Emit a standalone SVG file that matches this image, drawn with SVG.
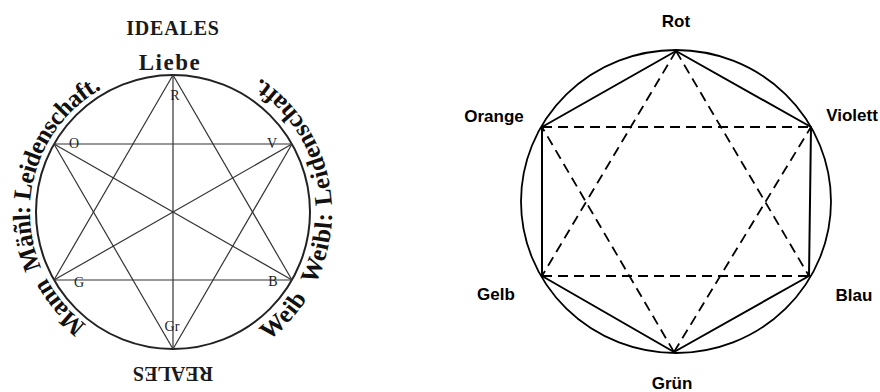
<svg xmlns="http://www.w3.org/2000/svg" width="880" height="392" viewBox="0 0 880 392">
<style>
.ser{font-family:"Liberation Serif","Times New Roman",serif;fill:#1a1a1a}
.b{font-weight:bold}
.al{font-family:"Liberation Serif","Times New Roman",serif;font-weight:bold;font-size:25px;fill:#111;letter-spacing:-0.5px}
.ar{font-family:"Liberation Serif","Times New Roman",serif;font-weight:bold;font-size:25px;fill:#111;letter-spacing:0.6px}
.lbl{font-family:"Liberation Serif",serif;font-size:14px;fill:#222;text-anchor:middle}
.thin{stroke:#333;stroke-width:1.2;fill:none}
.sol{stroke:#000;stroke-width:2;fill:none;stroke-linejoin:round}
.dash{stroke:#000;stroke-width:1.8;fill:none;stroke-dasharray:10 6}
.sans{font-family:"Liberation Sans",Arial,sans-serif;font-weight:bold;font-size:17px;fill:#000;text-anchor:middle}
</style>
<defs>
<path id="pl" d="M86.6,324.7 A141,141 0 0 1 124.4,78.6"/>
<path id="pr" d="M268.4,340.5 A161,161 0 0 0 227.7,61.6"/>
</defs>
<rect width="880" height="392" fill="#fff"/>

<!-- LEFT DIAGRAM -->
<g id="left-frame">
<circle cx="173" cy="212" r="137" fill="none" stroke="#222" stroke-width="2"/>
<text class="ser b" x="173" y="35" font-size="20" text-anchor="middle" letter-spacing="0.8">IDEALES</text>
<text class="ser b" x="170" y="70" font-size="23" text-anchor="middle" letter-spacing="1.5">Liebe</text>
<text class="ser b" x="173" y="380" font-size="20" text-anchor="middle" transform="rotate(180 173 373.5)">REALES</text>
</g>
<g id="left-arc-text">
<text class="al"><textPath href="#pl" startOffset="0">Mann</textPath></text>
<text class="al"><textPath href="#pl" startOffset="73.4">Mäñl:</textPath></text>
<text class="al"><textPath href="#pl" startOffset="141.95">Leiden</textPath></text>
<text class="al"><textPath href="#pl" startOffset="212.6">schaft.</textPath></text>
</g>
<g id="right-arc-text">
<text class="ar"><textPath href="#pr" startOffset="0">Weib</textPath></text>
<text class="ar"><textPath href="#pr" startOffset="73.05">Weibl:</textPath></text>
<text class="ar"><textPath href="#pr" startOffset="155.725">Leiden</textPath></text>
<text class="ar"><textPath href="#pr" startOffset="232.95">sch</textPath></text>
<text class="ar"><textPath href="#pr" startOffset="269.475">aft.</textPath></text>
</g>
<g id="left-connectors">
<line class="thin" x1="173" y1="75" x2="173" y2="349"/>
<line class="thin" x1="54" y1="144" x2="292" y2="144"/>
<line class="thin" x1="54" y1="280" x2="292" y2="280"/>
<line class="thin" x1="173" y1="75" x2="54" y2="280"/>
<line class="thin" x1="173" y1="75" x2="292" y2="280"/>
<line class="thin" x1="54" y1="144" x2="173" y2="349"/>
<line class="thin" x1="292" y1="144" x2="173" y2="349"/>
<line class="thin" x1="54" y1="144" x2="292" y2="280"/>
<line class="thin" x1="292" y1="144" x2="54" y2="280"/>
</g>
<g id="node-R"><text class="lbl" x="175" y="100" font-size="15">R</text></g>
<g id="node-O"><text class="lbl" x="74" y="148">O</text></g>
<g id="node-V"><text class="lbl" x="272" y="148">V</text></g>
<g id="node-G"><text class="lbl" x="79" y="287">G</text></g>
<g id="node-B"><text class="lbl" x="273" y="286">B</text></g>
<g id="node-Gr"><text class="lbl" x="172" y="331" font-size="13">Gr</text></g>

<!-- RIGHT DIAGRAM -->
<g id="right-frame">
<ellipse cx="676" cy="201.5" rx="155" ry="151.5" fill="none" stroke="#000" stroke-width="1.8"/>
</g>
<g id="right-connectors">
<polygon class="sol" points="676,51 811,127 809,276 674,352 542,276 542,127"/>
<line class="dash" x1="542" y1="127" x2="811" y2="127"/>
<line class="dash" x1="542" y1="276" x2="809" y2="276"/>
<line class="dash" x1="676" y1="51" x2="542" y2="276"/>
<line class="dash" x1="676" y1="51" x2="809" y2="276"/>
<line class="dash" x1="674" y1="352" x2="542" y2="127"/>
<line class="dash" x1="674" y1="352" x2="811" y2="127"/>
</g>
<g id="node-rot"><text class="sans" x="676" y="27">Rot</text></g>
<g id="node-orange"><text class="sans" x="494" y="122">Orange</text></g>
<g id="node-violett"><text class="sans" x="852" y="121">Violett</text></g>
<g id="node-gelb"><text class="sans" x="496" y="300">Gelb</text></g>
<g id="node-blau"><text class="sans" x="854" y="301">Blau</text></g>
<g id="node-gruen"><text class="sans" x="672" y="389">Grün</text></g>
</svg>
